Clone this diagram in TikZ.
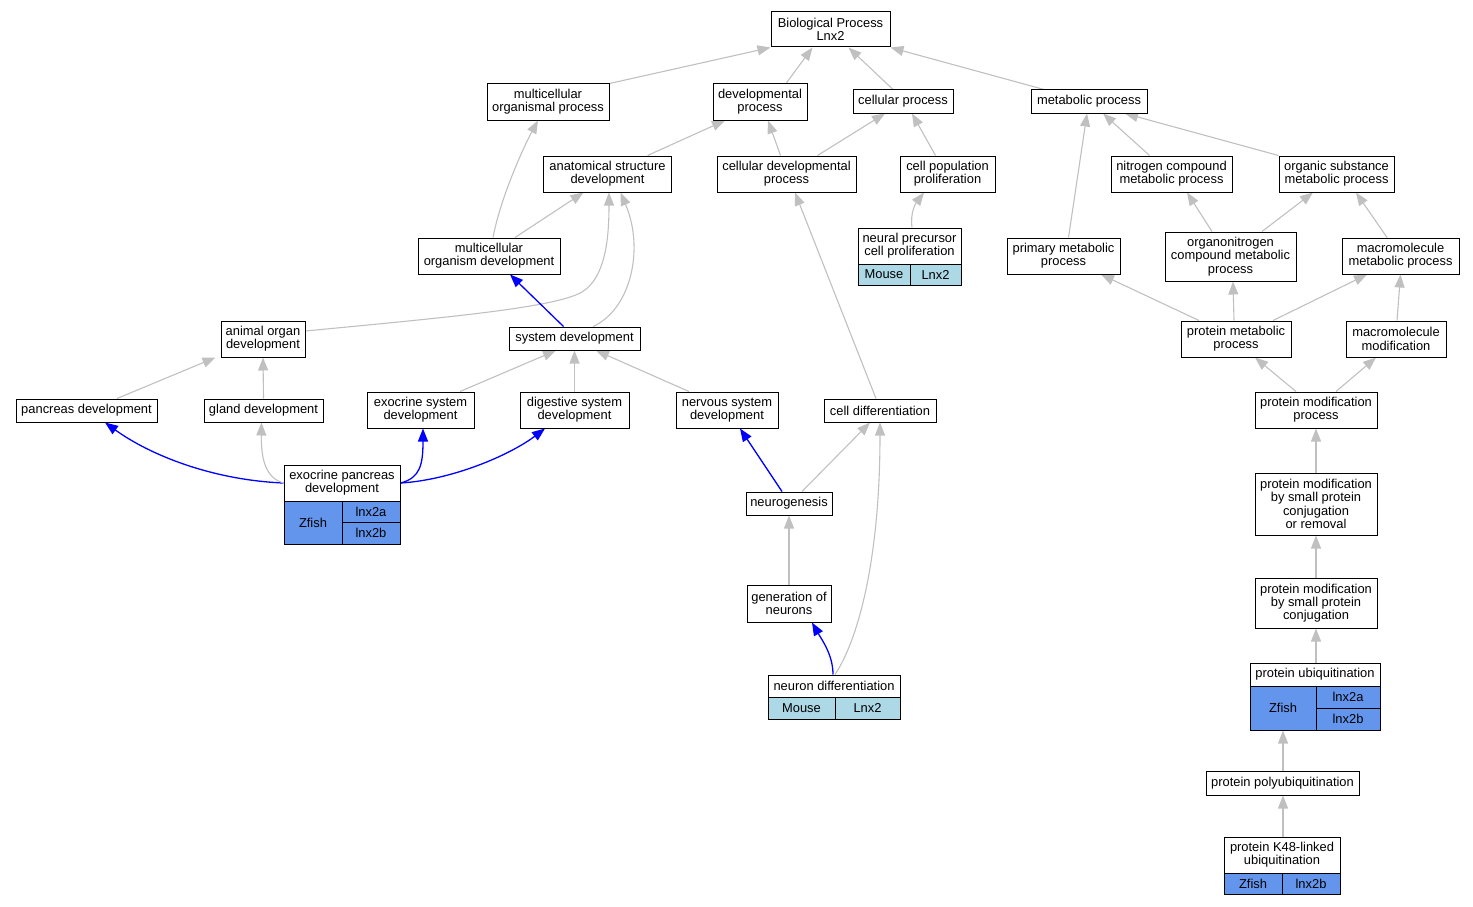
\documentclass[tikz,border=0pt]{standalone}
\usepackage{fontspec}
\setmainfont{Liberation Sans}
\usetikzlibrary{arrows.meta,backgrounds}
\definecolor{edgegray}{HTML}{C0C0C0}
\definecolor{zfish}{HTML}{6495ED}
\definecolor{mouse}{HTML}{ADD8E6}
\newcommand\lblfont{\fontsize{12.9}{13.3}\selectfont}
\tikzset{
  box/.style={draw=black, line width=1pt, fill=white, inner sep=0pt, align=center, font=\lblfont},
  zcell/.style={box, fill=zfish},
  mcell/.style={box, fill=mouse},
  gedge/.style={draw=edgegray, line width=1.1pt, -{Triangle[length=13pt,width=10pt,fill=edgegray]}},
  bedge/.style={draw=blue, line width=1.3pt, -{Triangle[length=13pt,width=10pt,fill=blue]}},
}
\newcommand\bx[6]{\node[box, minimum width=#4pt, minimum height=#5pt] (#1) at (#2,#3) {#6};}
\newcommand\cell[7]{\node[#1, minimum width=#5pt, minimum height=#6pt] (#2) at (#3,#4) {#7};}
\begin{document}
\begin{tikzpicture}[x=1pt,y=-1pt]
\useasboundingbox (0,0) rectangle (1473,907);
% nodes
\bx{BP}{830.5}{29.5}{119}{35}{Biological Process\\Lnx2}
\bx{MOP}{548}{102}{122}{36}{multicellular\\organismal process}
\bx{DP}{760}{102}{94}{36}{developmental\\process}
\bx{CP}{903}{101.5}{100}{23}{cellular process}
\bx{MP}{1089}{101.5}{116}{23}{metabolic process}
\bx{ASD}{607.5}{174}{128}{36}{anatomical structure\\development}
\bx{CDP}{786.5}{174}{139}{36}{cellular developmental\\process}
\bx{CPP}{947.5}{174}{95}{36}{cell population\\proliferation}
\bx{NCMP}{1171.5}{174}{121}{36}{nitrogen compound\\metabolic process}
\bx{OSMP}{1336.5}{174}{115}{36}{organic substance\\metabolic process}
\bx{MOD}{489}{256}{142}{36}{multicellular\\organism development}
\bx{NPCP}{909.5}{246}{103}{36}{neural precursor\\cell proliferation}
\cell{mcell}{NPCPm}{884}{274.5}{52}{21}{Mouse}
\cell{mcell}{NPCPg}{935.5}{274.5}{51}{21}{Lnx2}
\bx{PMP}{1063.5}{256}{113}{36}{primary metabolic\\process}
\bx{ONCMP}{1230.5}{256.5}{131}{49}{organonitrogen\\compound metabolic\\process}
\bx{MMP}{1400.5}{256}{117}{36}{macromolecule\\metabolic process}
\bx{AOD}{263}{339}{84}{36}{animal organ\\development}
\bx{SD}{574.5}{338.5}{131}{23}{system development}
\bx{PrMP}{1236}{339}{110}{36}{protein metabolic\\process}
\bx{MM}{1396}{339}{100}{36}{macromolecule\\modification}
\bx{PD}{86.5}{410.5}{141}{23}{pancreas development}
\bx{GD}{263.5}{410.5}{119}{23}{gland development}
\bx{ESD}{420.5}{410}{107}{36}{exocrine system\\development}
\bx{DSD}{574.5}{410}{109}{36}{digestive system\\development}
\bx{NSD}{727}{410}{102}{36}{nervous system\\development}
\bx{CD}{880}{410.5}{112}{23}{cell differentiation}
\bx{PMod}{1316}{410}{122}{36}{protein modification\\process}
\bx{EPD}{342}{483}{116}{36}{exocrine pancreas\\development}
\cell{zcell}{EPDz}{313}{522.5}{58}{43}{Zfish}
\cell{zcell}{EPDa}{371}{511.75}{58}{21.5}{lnx2a}
\cell{zcell}{EPDb}{371}{533.25}{58}{21.5}{lnx2b}
\bx{NG}{789}{503.5}{86}{23}{neurogenesis}
\bx{PMSPCR}{1316}{504}{122}{62}{protein modification\\by small protein\\conjugation\\or removal}
\bx{GoN}{789}{603.5}{84}{37}{generation of\\neurons}
\bx{PMSPC}{1316}{603}{122}{50}{protein modification\\by small protein\\conjugation}
\bx{ND}{834}{686}{132}{22}{neuron differentiation}
\cell{mcell}{NDm}{801.5}{708}{67}{22}{Mouse}
\cell{mcell}{NDg}{867.5}{708}{65}{22}{Lnx2}
\bx{PU}{1315}{674.5}{130}{23}{protein ubiquitination}
\cell{zcell}{PUz}{1283}{708}{66}{44}{Zfish}
\cell{zcell}{PUa}{1348}{697}{64}{22}{lnx2a}
\cell{zcell}{PUb}{1348}{719}{64}{22}{lnx2b}
\bx{PPU}{1282.5}{783}{153}{24}{protein polyubiquitination}
\bx{K48}{1282}{855}{116}{36}{protein K48-linked\\ubiquitination}
\cell{zcell}{K48z}{1253}{883.5}{58}{21}{Zfish}
\cell{zcell}{K48b}{1311}{883.5}{58}{21}{lnx2b}
% edges
\begin{pgfonlayer}{background}
\draw[gedge] (MOP.north east) -- (BP.south west);
\draw[gedge] ([xshift=26pt]DP.north) -- ([xshift=-18pt]BP.south);
\draw[gedge] ([xshift=-10pt]CP.north) -- ([xshift=18pt]BP.south);
\draw[gedge] ([xshift=-45pt]MP.north) -- (BP.south east);
\draw[gedge] ([xshift=40pt]ASD.north) -- ([xshift=-35pt]DP.south);
\draw[gedge] ([xshift=-6pt]CDP.north) -- ([xshift=8pt]DP.south);
\draw[gedge] ([xshift=31pt]CDP.north) -- ([xshift=-18pt]CP.south);
\draw[gedge] ([xshift=-12pt]CPP.north) -- ([xshift=9pt]CP.south);
\draw[gedge] ([xshift=-22pt]NCMP.north) -- ([xshift=14pt]MP.south);
\draw[gedge] (OSMP.north west) -- ([xshift=36pt]MP.south);
\draw[gedge] ([xshift=5pt]PMP.north) -- ([xshift=-2pt]MP.south);
\draw[gedge] ([xshift=4pt]MOD.north) .. controls (500,200) and (522,150) .. ([xshift=-10pt]MOP.south);
\draw[gedge] ([xshift=26pt]MOD.north) -- ([xshift=-24pt]ASD.south);
\draw[gedge] ([xshift=2.5pt]NPCP.north) .. controls (910,212) and (916,203) .. ([xshift=-23.5pt]CPP.south);
\draw[gedge] ([xshift=-18.5pt]ONCMP.north) -- ([xshift=15.5pt]NCMP.south);
\draw[gedge] ([xshift=31.5pt]ONCMP.north) -- ([xshift=-23.5pt]OSMP.south);
\draw[gedge] ([xshift=-13.5pt]MMP.north) -- ([xshift=19.5pt]OSMP.south);
\draw[gedge] ([yshift=8pt]AOD.east) .. controls (440,318) and (555,308) .. (582,292) .. controls (605,278) and (609,240) .. ([xshift=1.5pt]ASD.south);
\draw[gedge] ([xshift=18.5pt]SD.north) .. controls (630,310) and (645,250) .. ([xshift=13pt]ASD.south);
\draw[bedge] ([xshift=-11pt]SD.north) -- ([xshift=21pt]MOD.south);
\draw[gedge] ([xshift=-37pt]PrMP.north) -- ([xshift=37.5pt]PMP.south);
\draw[gedge] ([xshift=-2pt]PrMP.north) -- ([xshift=2.5pt]ONCMP.south);
\draw[gedge] ([xshift=37pt]PrMP.north) -- ([xshift=-33.5pt]MMP.south);
\draw[gedge] ([xshift=1pt]MM.north) -- (MMP.south);
\draw[gedge] ([xshift=30.5pt]PD.north) -- ([xshift=-5pt]AOD.south west);
\draw[gedge] (GD.north) -- (AOD.south);
\draw[gedge] ([xshift=39.5pt]ESD.north) -- ([xshift=-18.5pt]SD.south);
\draw[gedge] (DSD.north) -- (SD.south);
\draw[gedge] ([xshift=-38pt]NSD.north) -- ([xshift=21.5pt]SD.south);
\draw[gedge] ([xshift=-4pt]CD.north) -- ([xshift=8.5pt]CDP.south);
\draw[gedge] ([xshift=-20pt]PMod.north) -- ([xshift=19pt]PrMP.south);
\draw[gedge] ([xshift=20pt]PMod.north) -- ([xshift=-20pt]MM.south);
\draw[bedge] (EPD.west) .. controls (212,480) and (150,455) .. ([xshift=18.5pt]PD.south);
\draw[gedge] (EPD.west) .. controls (266,478) and (261,460) .. ([xshift=-2pt]GD.south);
\draw[bedge] (EPD.east) .. controls (420,478) and (423,465) .. ([xshift=2.5pt]ESD.south);
\draw[bedge] (EPD.east) .. controls (452,480) and (510,455) .. ([xshift=-29.5pt]DSD.south);
\draw[bedge] ([xshift=-7pt]NG.north) -- ([xshift=13pt]NSD.south);
\draw[gedge] ([xshift=13pt]NG.north) -- ([xshift=-10pt]CD.south);
\draw[gedge] (PMSPCR.north) -- (PMod.south);
\draw[gedge] (GoN.north) -- (NG.south);
\draw[bedge] ([xshift=-1pt]ND.north) .. controls (833,655) and (822,640) .. ([xshift=23pt]GoN.south);
\draw[gedge] ([xshift=1pt]ND.north) .. controls (858,640) and (880,560) .. (CD.south);
\draw[gedge] (PMSPC.north) -- (PMSPCR.south);
\draw[gedge] ([xshift=1pt]PU.north) -- (PMSPC.south);
\draw[gedge] ([xshift=0.5pt]PPU.north) -- (PUz.south);
\draw[gedge] ([xshift=1pt]K48.north) -- ([xshift=0.5pt]PPU.south);
\end{pgfonlayer}
\end{tikzpicture}
\end{document}
